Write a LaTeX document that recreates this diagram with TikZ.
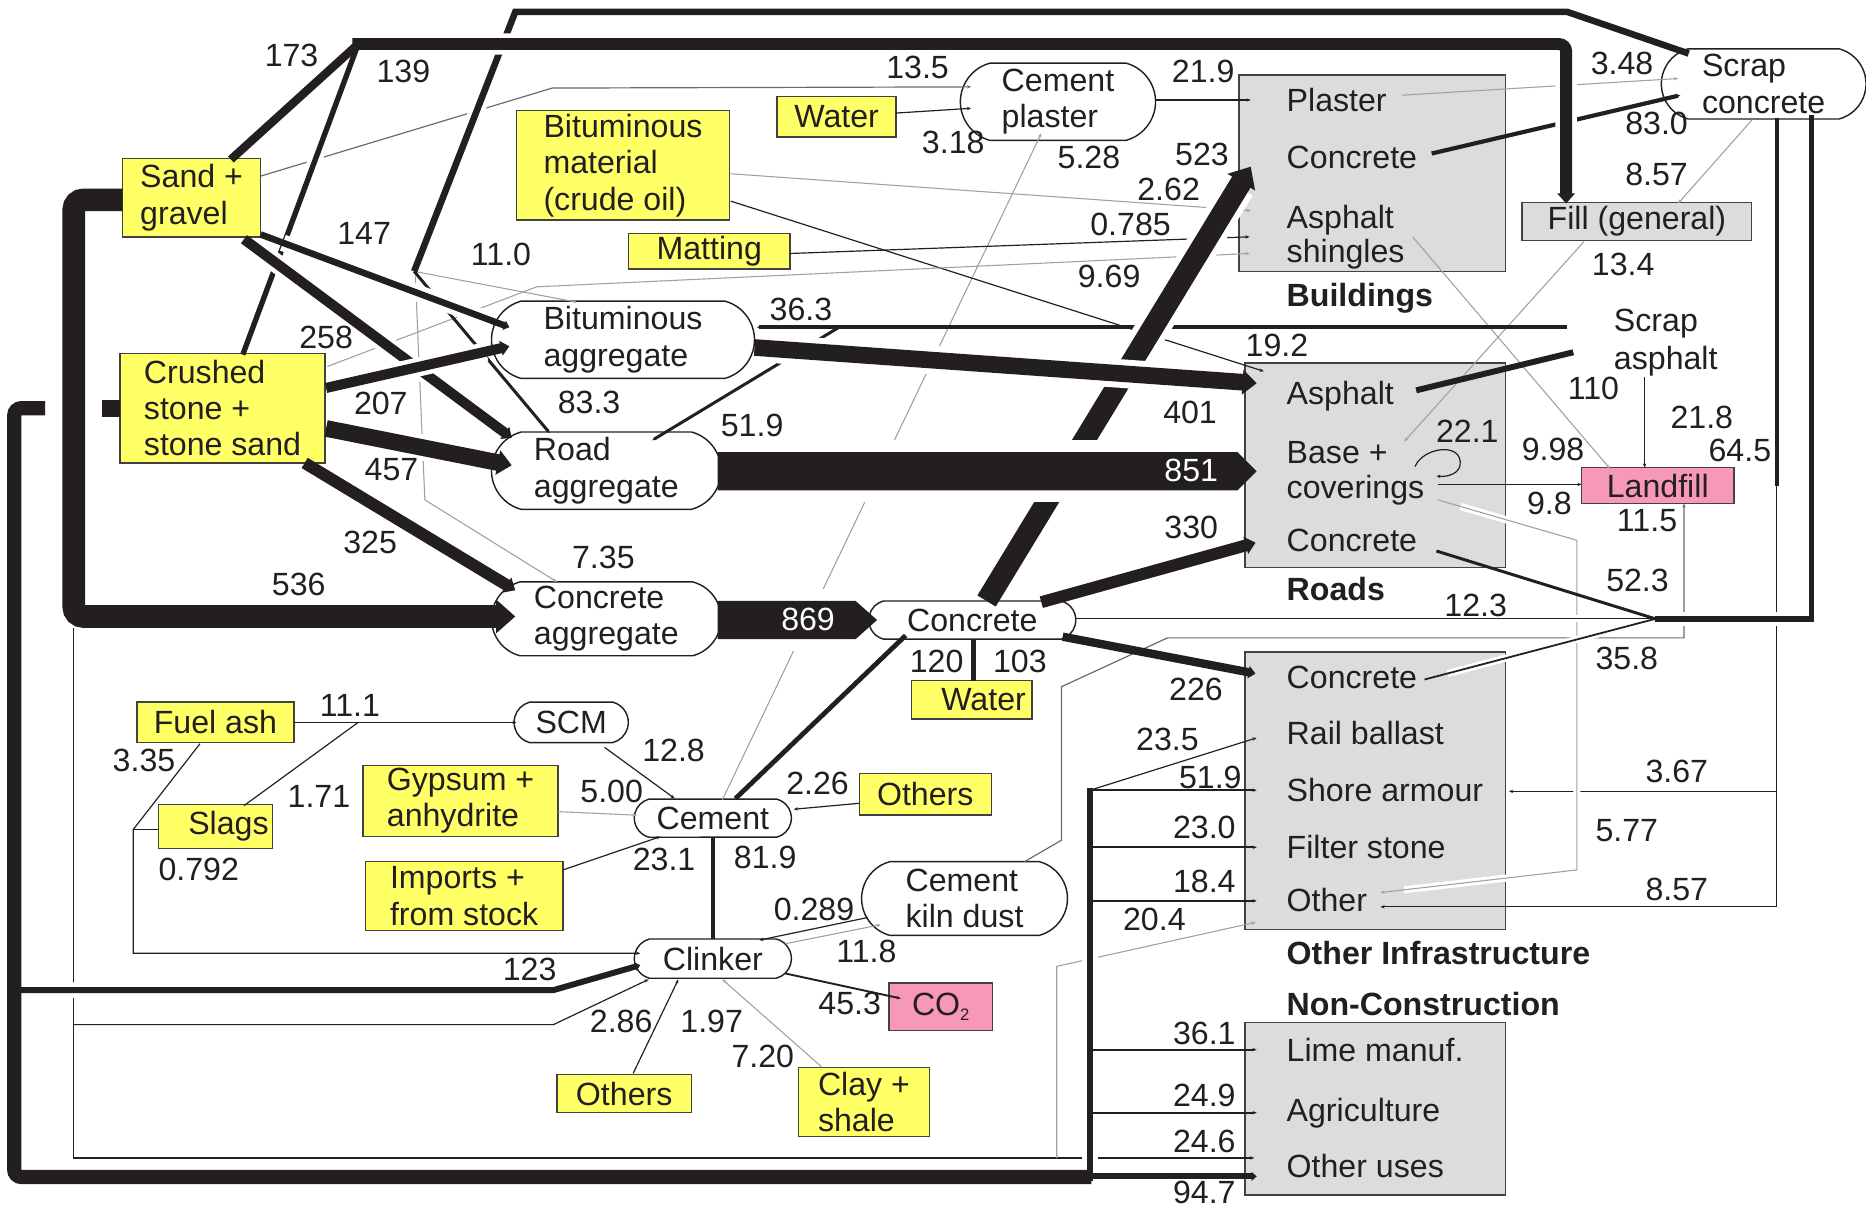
\documentclass[tikz,border=0pt]{standalone}
\usepackage{fontspec}
\setmainfont{Liberation Sans}
\usetikzlibrary{arrows.meta,shapes.misc}
\definecolor{ink}{HTML}{231F20}
\definecolor{faint}{HTML}{A0A0A0}
\definecolor{midgray}{HTML}{6A6A6A}
\definecolor{sun}{HTML}{FFFF66}
\definecolor{rose}{HTML}{F799B6}
\definecolor{panel}{HTML}{DCDCDC}
\newcommand{\fs}{\fontsize{27}{30.5}\selectfont}
\begin{document}
\begin{tikzpicture}[x=1pt,y=-1pt,
  every node/.style={font=\fs, text=ink},
  box/.style={draw=ink!85, line width=1.2, inner sep=0pt, align=left},
  src/.style={box, fill=sun},
  sink/.style={box, fill=rose},
  proc/.style={draw=ink, line width=1.2, fill=white, rounded rectangle,
    rounded rectangle arc length=150, inner sep=0pt, align=left},
  area/.style={draw=ink!85, line width=1.2, fill=panel, inner sep=0pt},
  item/.style={anchor=base west, inner sep=0pt, yshift=-9.7pt},
  head/.style={item, font=\fs\bfseries},
  num/.style={anchor=base, inner sep=0pt, yshift=-9.7pt},
  flow/.style={draw=ink, line cap=butt},
  hair/.style={draw=ink, line width=1},
  pale/.style={draw=faint, line width=0.9},
  tk/.style={-{Stealth[length=3.5pt,width=2.8pt]}},
  big/.style={-{Triangle[length=0pt 0.85, width=0pt 1.45]}},
  halo/.style={preaction={draw=white, arrows=-, line width=#1,
    shorten <=20pt, shorten >=20pt}},
]
\useasboundingbox (0,0) rectangle (1568,1015);

% ---------- end-use panels ----------
\node[area, minimum width=224, minimum height=165] (bld) at (1153,145.5) {};
\node[area, minimum width=219, minimum height=172] (rds) at (1155.5,391) {};
\node[area, minimum width=219, minimum height=233] (oth) at (1155.5,664.5) {};
\node[area, minimum width=219, minimum height=145] (non) at (1155.5,931.5) {};

% ---------- raw materials ----------
\node[src, minimum width=116, minimum height=66] (sand) at (161,166) {Sand +\\gravel};
\node[src, minimum width=172, minimum height=92] (crushed) at (187,343) {Crushed\\stone +\\stone sand};
\node[src, minimum width=179, minimum height=92] (bitmat) at (523.5,139) {Bituminous\\material\\(crude oil)};
\node[src, minimum width=100, minimum height=34] (watera) at (703,98) {Water};
\node[src, minimum width=136, minimum height=30] (matting) at (596,211) {Matting};
\node[src, minimum width=132, minimum height=34] (fuelash) at (181,607) {Fuel ash};
\node[src, minimum width=96, minimum height=37] (slags) at (181,694.5) {\hspace*{22pt}Slags};
\node[src, minimum width=164, minimum height=60] (gypsum) at (387,673) {Gypsum +\\anhydrite};
\node[src, minimum width=166, minimum height=58] (imports) at (390,753) {Imports +\\from stock};
\node[src, minimum width=111, minimum height=35] (othersa) at (777.5,667.5) {Others};
\node[src, minimum width=101, minimum height=32] (waterb) at (816.5,588) {\hspace*{20pt}Water};
\node[src, minimum width=113, minimum height=32] (othersb) at (524.5,919) {Others};
\node[src, minimum width=110, minimum height=58] (clay) at (726,926) {Clay +\\shale};

% ---------- sinks ----------
\node[sink, minimum width=128, minimum height=30] (landfill) at (1393,408) {Landfill};
\node[sink, minimum width=87, minimum height=40] (co2) at (790.5,846) {CO\raisebox{-5pt}{\fontsize{14}{14}\selectfont 2}};
\node[box, fill=panel, minimum width=193, minimum height=32] (fill) at (1375.5,186) {Fill (general)};

% ---------- intermediate products ----------
\node[proc, minimum width=164, minimum height=65] (cplaster) at (889,85.5) {Cement\\plaster};
\node[proc, minimum width=221, minimum height=65] (bitagg) at (523.5,285.5) {Bituminous\\aggregate};
\node[proc, minimum width=193, minimum height=65] (roadagg) at (509.5,395.5) {Road\\aggregate};
\node[proc, minimum width=193, minimum height=62] (concagg) at (509.5,520) {Concrete\\aggregate};
\node[proc, minimum width=174, minimum height=32] (concrete) at (817,521) {Concrete};
\node[proc, minimum width=96, minimum height=34] (scm) at (480,607) {SCM};
\node[proc, minimum width=132, minimum height=32] (cement) at (599,687.5) {Cement};
\node[proc, minimum width=173, minimum height=62] (ckd) at (810.5,755) {Cement\\kiln dust};
\node[proc, minimum width=132, minimum height=33] (clinker) at (599,805.5) {Clinker};
\node[proc, minimum width=172, minimum height=59] (scrapc) at (1482,70.5) {Scrap\\concrete};

% ---------- thin flows ----------
\draw[hair, draw=midgray, tk] (219,148) -- (464,74) -- (816,73);
\draw[hair, tk] (753,95) -- (816,91);
\draw[hair, tk] (971,84) -- (1051,84);
\draw[pale, tk] (607,672) -- (875,112);
\draw[pale, tk] (614,146) -- (1051,177);
\draw[hair, tk] (614,169) -- (1062,312);
\draw[hair, tk] (664,213) -- (1050,199);
\draw[pale, tk] (275,308) -- (451,241) -- (1050,213);
\draw[pale, tk] (348,228) -- (485,254);
\draw[pale, tk] (349,232) -- (357,420) -- (468,489);
\draw[pale, tk] (1178,80) -- (1410,66);
\draw[pale, tk] (1472,101) -- (1410,171);
\draw[pale, tk] (1331,203) -- (1180,371);
\draw[pale, tk] (1187,199) -- (1353,394);
\draw[hair, draw=midgray, tk] (861,724) -- (892,706) -- (892,577) -- (981,536) -- (1415,536) -- (1415,423);
\draw[hair, tk] (1208,407) -- (1329,407);
\draw[hair, tk] (1382,317) -- (1382,393);
\draw[hair] (1493,406) -- (1493,762);
\draw[hair, tk] (1493,665) -- (1268,665);
\draw[hair, tk] (1493,762) -- (1160,762);
\draw[pale, halo=6, tk] (1208,420) -- (1325,454) -- (1325,731) -- (1160,750);
\draw[hair, tk] (1189,392) .. controls (1196,376) and (1226,372) .. (1227,388)
  .. controls (1228,398) and (1216,401) .. (1207,400);

\draw[hair, tk] (247,607) -- (434,607);
\draw[hair] (205,677) -- (301,607);
\draw[hair, tk] (168,625) -- (112,697) -- (112,801) -- (538,801);
\draw[hair] (133,697) -- (112,697);
\draw[hair, tk] (508,628) -- (567,671);
\draw[pale, tk] (469,682) -- (535,685);
\draw[hair, tk] (473,731) -- (555,703);
\draw[hair, tk] (722,675) -- (667,680);
\draw[hair, tk] (729,771) -- (638,790);
\draw[pale, tk] (660,793) -- (740,777);
\draw[hair, line width=1.6, tk] (660,818) -- (757,839);
\draw[hair, tk] (532,902) -- (570,823);
\draw[pale, tk] (691,897) -- (607,823);
\draw[hair, tk] (62,528) -- (62,973) -- (1054,973);
\draw[hair, tk] (62,861) -- (465,861) -- (545,823);
\draw[pale, tk] (888,973) -- (888,812) -- (1055,775);

\draw[hair, tk] (916,664) -- (1056,620);
\draw[hair, line width=1.6, tk] (916,664) -- (1056,664);
\draw[hair, line width=1.6, tk] (916,712) -- (1056,712);
\draw[hair, line width=1.6, tk] (916,757) -- (1056,757);
\draw[hair, line width=1.6, tk] (916,882) -- (1056,882);
\draw[hair, line width=1.6, tk] (916,935) -- (1056,935);

% ---------- recycled concrete and asphalt ----------
\draw[flow, line width=3.5, tk] (1203,129) -- (1412,80);
\draw[flow, line width=5] (1190,328) -- (1322,296);
\draw[flow, line width=3.5] (1317,275) -- (705,275);
\draw[flow, line width=3, tk] (705,275) -- (636,275);
\draw[flow, line width=2.5, tk] (705,275) -- (548,370);
\draw[flow, line width=2.5] (1207,463) -- (1391,520);
\draw[hair, line width=1.5, halo=6] (1197,571) -- (1391,520);
\draw[hair, halo=6] (904,520) -- (1391,520);
\draw[flow, line width=4.5, halo=12] (1391,520) -- (1522,520) -- (1522,97);
\draw[flow, line width=3.5] (1493,99) -- (1493,408);
\draw[flow, line width=5.5, halo=13] (1419,45) -- (1317,10) -- (433,10) -- (348,228);
\draw[flow, line width=2.5, tk] (348,228) -- (462,364);

% ---------- primary aggregate ----------
\draw[flow, line width=4.5, halo=12] (204,298) -- (301,37);
\draw[flow, line width=7] (194,134) -- (301,37);
\draw[flow, line width=10, halo=18, rounded corners=6, big] (296,37) -- (1316,37) -- (1316,171);
\draw[flow, line width=5.5, halo=14, big] (219,197) -- (428,275);
\draw[flow, line width=8.5, halo=16, big] (205,201) -- (430,368);
\draw[flow, line width=8.5, halo=16, big] (274,326) -- (428,291);
\draw[flow, line width=14, halo=22, big] (274,360) -- (430,391);
\draw[flow, line width=10, halo=18, big] (256,389) -- (433,496);
\draw[flow, line width=19, rounded corners=8, big] (103,168) -- (62,168) -- (62,518) -- (433,518);
\draw[flow, line width=14] (101,343) -- (86,343);
\draw[flow, line width=12, rounded corners=6] (38,343) -- (12,343) -- (12,989) -- (917,989);
\draw[flow, line width=5, big] (914,988.5) -- (1056,988.5);
\draw[white, line width=14] (916,963) -- (916,981);
\draw[white, line width=14] (916,796) -- (916,816);
\draw[flow, line width=5] (916,992) -- (916,662);
\draw[flow, line width=5, halo=13, big] (12,832) -- (465,832) -- (538,811);

% ---------- concrete and cement ----------
\draw[flow, line width=18, halo=28, big] (829,505) -- (1051,140);
\draw[flow, line width=14, halo=24, big] (634,292) -- (1056,322);
\draw[flow, line width=10, big] (875,506) -- (1055,456);
\draw[flow, line width=7, big] (893,535) -- (1055,566);
\draw[flow, line width=4] (618,671) -- (761,534);
\draw[flow, line width=4] (818,572) -- (818,537);
\draw[flow, line width=3.5] (599,789) -- (599,704);

% broad bands
\fill[white] (650,370) rectangle (1000,422);
\fill[ink] (603,380) -- (1040,380) -- (1056,396) -- (1040,412) -- (603,412) -- cycle;
\fill[white] (640,495) rectangle (712,547);
\fill[ink] (603,505) -- (719,505) -- (737,521) -- (719,537) -- (603,537) -- cycle;

% ---------- panel contents ----------
\node[item] at (1081,84) {Plaster};
\node[item] at (1081,132) {Concrete};
\node[item] at (1081,182) {Asphalt};
\node[item] at (1081,211) {shingles};
\node[head] at (1081,248) {Buildings};
\node[item] at (1081,330) {Asphalt};
\node[item] at (1081,380) {Base +};
\node[item] at (1081,409) {coverings};
\node[item] at (1081,454) {Concrete};
\node[head] at (1081,495) {Roads};
\node[item] at (1081,569) {Concrete};
\node[item] at (1081,616) {Rail ballast};
\node[item] at (1081,664) {Shore armour};
\node[item] at (1081,712) {Filter stone};
\node[item] at (1081,756) {Other};
\node[head] at (1081,801) {Other Infrastructure};
\node[head] at (1081,844) {Non-Construction};
\node[item] at (1081,882) {Lime manuf.};
\node[item] at (1081,933) {Agriculture};
\node[item] at (1081,980) {Other uses};
\node[item] (scrapa) at (1356,269) {Scrap};
\node[item] at (1356,301) {asphalt};

% ---------- flow quantities ----------
\node[num] at (245,46) {173};
\node[num] at (339,60) {139};
\node[num] at (771,56) {13.5};
\node[num] at (801,119) {3.18};
\node[num] at (1011,60) {21.9};
\node[num] at (1010,129) {523};
\node[num] at (915,132) {5.28};
\node[num] at (982,159) {2.62};
\node[num] at (950,188) {0.785};
\node[num] at (932,232) {9.69};
\node[num] at (1363,53) {3.48};
\node[num] at (1392,103) {83.0};
\node[num] at (1392,146) {8.57};
\node[num] at (1364,222) {13.4};
\node[num] at (306,196) {147};
\node[num] at (421,213) {11.0};
\node[num] at (274,283) {258};
\node[num] at (673,260) {36.3};
\node[num] at (1073,290) {19.2};
\node[num] at (320,339) {207};
\node[num] at (495,338) {83.3};
\node[num] at (632,357) {51.9};
\node[num] at (1000,346) {401};
\node[num] at (1339,326) {110};
\node[num] at (1430,350) {21.8};
\node[num] at (1233,362) {22.1};
\node[num] at (1305,377) {9.98};
\node[num] at (1462,378) {64.5};
\node[num, text=white] at (1001,395) {851};
\node[num] at (329,394) {457};
\node[num] at (1302,423) {9.8};
\node[num] at (1384,437) {11.5};
\node[num] at (311,455) {325};
\node[num] at (507,468) {7.35};
\node[num] at (1001,443) {330};
\node[num] at (1376,487) {52.3};
\node[num] at (251,491) {536};
\node[num] at (1240,508) {12.3};
\node[num, text=white] at (679,520) {869};
\node[num] at (787,555) {120};
\node[num] at (857,555) {103};
\node[num] at (1367,553) {35.8};
\node[num] at (1005,579) {226};
\node[num] at (294,592) {11.1};
\node[num] at (566,630) {12.8};
\node[num] at (981,621) {23.5};
\node[num] at (121,639) {3.35};
\node[num] at (687,658) {2.26};
\node[num] at (1017,653) {51.9};
\node[num] at (1409,648) {3.67};
\node[num] at (514,665) {5.00};
\node[num] at (268,669) {1.71};
\node[num] at (1367,697) {5.77};
\node[num] at (1012,695) {23.0};
\node[num] at (167,730) {0.792};
\node[num] at (558,722) {23.1};
\node[num] at (643,720) {81.9};
\node[num] at (1012,740) {18.4};
\node[num] at (1409,747) {8.57};
\node[num] at (684,764) {0.289};
\node[num] at (970,772) {20.4};
\node[num] at (728,799) {11.8};
\node[num] at (445,814) {123};
\node[num] at (714,843) {45.3};
\node[num] at (522,858) {2.86};
\node[num] at (598,858) {1.97};
\node[num] at (641,887) {7.20};
\node[num] at (1012,868) {36.1};
\node[num] at (1012,920) {24.9};
\node[num] at (1012,959) {24.6};
\node[num] at (1012,1002) {94.7};
\end{tikzpicture}
\end{document}
